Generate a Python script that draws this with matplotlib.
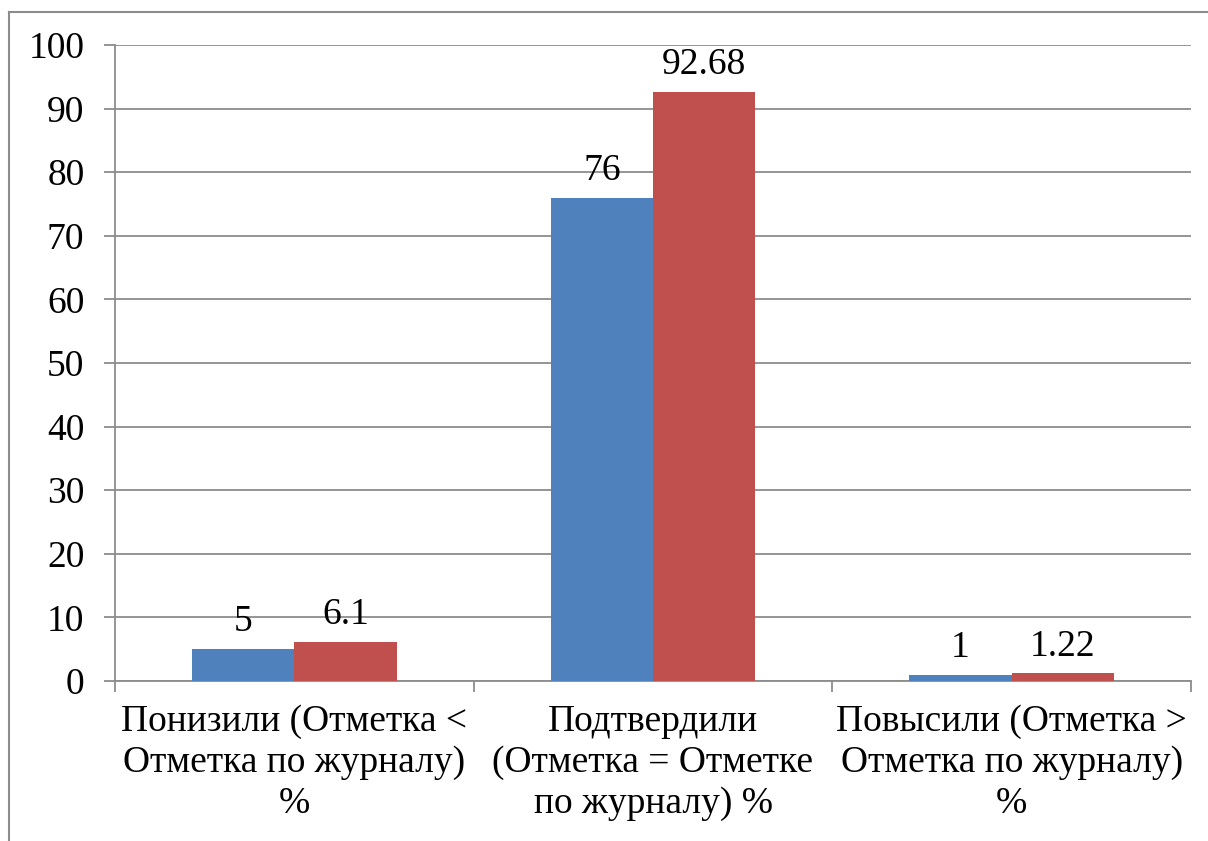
import numpy as np
import matplotlib.pyplot as plt
from matplotlib.lines import Line2D

categories = ["Понизили (Отметка <\nОтметка по журналу)\n%",
              "Подтвердили\n(Отметка = Отметке\nпо журналу) %",
              "Повысили (Отметка >\nОтметка по журналу)\n%"]
series_a = [5, 76, 1]
series_b = [6.1, 92.68, 1.22]
labels_a = ["5", "76", "1"]
labels_b = ["6.1", "92.68", "1.22"]

plt.rcParams['font.family'] = ['Liberation Serif', 'DejaVu Serif']
gray = '#8c8c8c'

fig = plt.figure(figsize=(12.08, 8.41), dpi=100)
ax = fig.add_axes([115/1208, 1-681/841, 1076/1208, 636/841])

x = np.arange(len(categories))
w = 0.285
bars_a = ax.bar(x - w/2, series_a, w, color='#4F81BD', zorder=3)
bars_b = ax.bar(x + w/2, series_b, w, color='#C0504D', zorder=3)

for bars, labs in ((bars_a, labels_a), (bars_b, labels_b)):
    for b, t in zip(bars, labs):
        ax.annotate(t, (b.get_x() + b.get_width()/2, b.get_height()),
                    xytext=(0, 7), textcoords='offset points',
                    ha='center', va='bottom', fontsize=27)

ax.set_xlim(-0.5, 2.5)
ax.set_ylim(0, 100)
ax.set_yticks(np.arange(0, 101, 10))
ax.yaxis.grid(True, color=gray, linewidth=1.3, zorder=0)
ax.tick_params(axis='y', labelsize=27, length=8, width=1.3, color=gray, pad=14)

ax.set_xticks(x)
ax.set_xticklabels(categories, fontsize=27, linespacing=1.24)
ax.tick_params(axis='x', which='major', length=0, pad=17)
ax.set_xticks([-0.5, 0.5, 1.5, 2.5], minor=True)
ax.tick_params(axis='x', which='minor', length=8, width=1.3, color=gray)

for s in ('top', 'right'):
    ax.spines[s].set_visible(False)
for s in ('left', 'bottom'):
    ax.spines[s].set_color(gray)
    ax.spines[s].set_linewidth(1.3)

# outer chart border
fig.add_artist(Line2D([9/1208, 9/1208], [0, 1-12/841], color=gray, linewidth=1.5))
fig.add_artist(Line2D([9/1208, 1], [1-12/841, 1-12/841], color=gray, linewidth=1.5))

fig.savefig("out.png", dpi=100)
